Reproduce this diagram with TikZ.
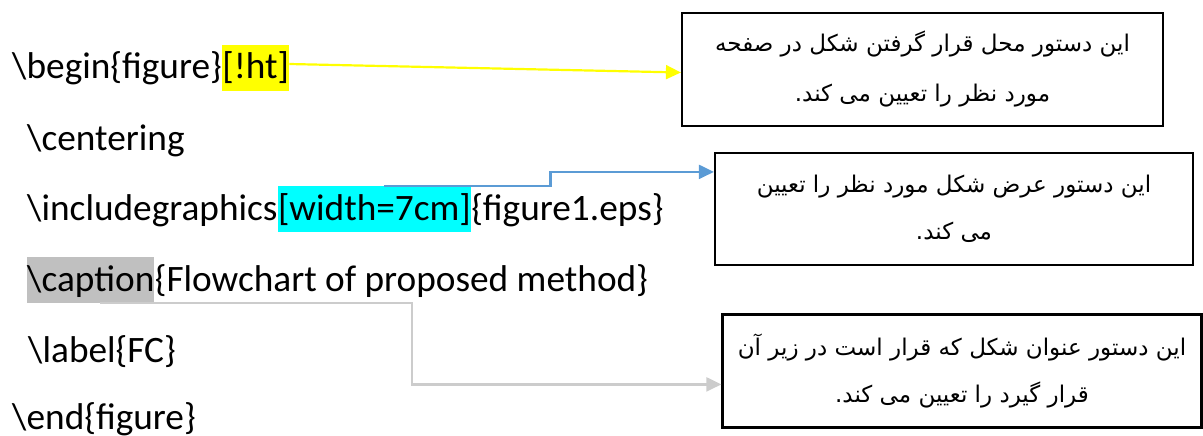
\documentclass[tikz,border=0pt]{standalone}
\usepackage{fontspec}
\setmainfont{Carlito}
\newfontfamily\farsi[Script=Arabic]{DejaVu Sans}
\TeXXeTstate=1
\usetikzlibrary{arrows.meta,calc}
\definecolor{hlyellow}{RGB}{255,255,0}
\definecolor{hlcyan}{RGB}{0,255,255}
\definecolor{hlgray}{RGB}{192,192,192}
\definecolor{linkblue}{RGB}{91,155,213}
\definecolor{linkgray}{RGB}{204,204,204}
\begin{document}
\begin{tikzpicture}[x=1pt,y=-1pt,
 code/.style={anchor=base west,inner sep=0pt,font=\fontsize{37.3}{40}\selectfont},
 hl/.style={code,text height=34pt,text depth=12pt},
 note/.style={draw,line width=2.2pt,inner sep=0pt,align=center,font=\farsi\fontsize{23}{47}\selectfont},
 link/.style={line width=2.2pt,-{Triangle[length=15pt,width=14pt]}}]
\useasboundingbox (0,0) rectangle (1203,436);

\node[code] (l1) at (12,79) {\textbackslash begin\{figure\}};
\node[hl,fill=hlyellow] (ht) at (l1.base east) {[!ht]};
\node[code] (l2) at (27,150) {\textbackslash centering};
\node[code] (l3) at (27,220) {\textbackslash includegraphics};
\node[hl,fill=hlcyan] (wd) at (l3.base east) {[width=7cm]};
\node[code] (l3b) at (wd.base east) {\{figure1.eps\}};
\node[hl,fill=hlgray] (cap) at (27,291) {\textbackslash caption};
\node[code] (l4b) at (cap.base east) {\{Flowchart of proposed method\}};
\node[code] (l5) at (28,362) {\textbackslash label\{FC\}};
\node[code] (l6) at (12,429) {\textbackslash end\{figure\}};

\node[note,minimum width=481pt,minimum height=113pt] (box1) at (922.5,69.5)
 {\beginR این دستور محل قرار گرفتن شکل در صفحه\endR\\[3pt]\beginR مورد نظر را تعیین می کند.\endR};
\node[note,minimum width=478pt,minimum height=112pt] (box2) at (954,209)
 {\beginR این دستور عرض شکل مورد نظر را تعیین\endR\\\beginR می کند.\endR};
\node[note,minimum width=479pt,minimum height=113pt] (box3) at (962,371)
 {\beginR این دستور عنوان شکل که قرار است در زیر آن\endR\\\beginR قرار گیرد را تعیین می کند.\endR};

\coordinate (b2in) at ($(box2.north west)+(0,20)$);
\coordinate (b3in) at ($(box3.north west)+(0,71)$);

\draw[link,hlyellow] ([yshift=4pt]ht.east) -- ([yshift=-3pt]box1.west);
\draw[link,linkblue] ([xshift=10pt]wd.north) -- ++(166,0) |- (b2in);
\draw[link,linkgray] ([xshift=9pt]cap.south) -- ++(312,0) |- (b3in);
\end{tikzpicture}
\end{document}
